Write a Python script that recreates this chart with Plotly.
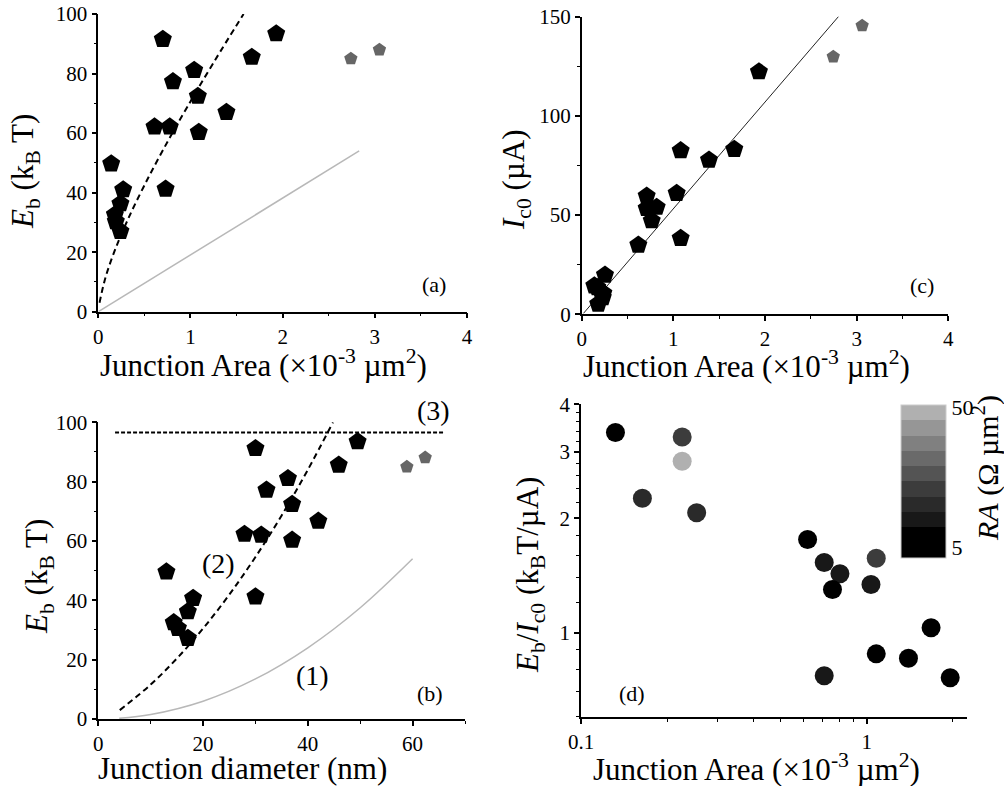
import plotly.graph_objects as go

# ---------------- data ----------------
# (a) Eb vs junction area
area_a_black = [0.14, 0.70, 1.93, 1.665, 1.04, 0.81, 1.08, 1.39, 0.61, 0.775, 1.09, 0.73, 0.27, 0.24, 0.18, 0.19, 0.24]
eb_a_black = [49.7, 91.5, 93.4, 85.5, 81.1, 77.3, 72.4, 67.0, 62.1, 62.1, 60.3, 41.2, 41.0, 36.3, 32.6, 30.3, 27.0]
area_a_gray = [2.74, 3.05]
eb_a_gray = [85.0, 88.0]
model2_area = [0.013, 0.079, 0.177, 0.314, 0.491, 0.707, 0.962, 1.257, 1.576]
model2_eb = [3.0, 11.6, 20.4, 30.5, 41.9, 54.6, 68.6, 84.0, 100.0]
model1_area = [0.0, 2.83]
model1_eb = [0.0, 54.0]

# (c) Ic0 vs junction area
area_c_black = [1.934, 1.665, 1.389, 1.08, 1.036, 1.08, 0.709, 0.709, 0.818, 0.764, 0.618, 0.254, 0.138, 0.17, 0.236, 0.23, 0.18]
ic_c_black = [122.3, 83.2, 77.8, 82.5, 61.0, 38.3, 59.6, 53.4, 54.0, 47.2, 34.9, 19.8, 14.4, 13.5, 10.6, 8.5, 5.2]
area_c_gray = [2.745, 3.06]
ic_c_gray = [129.8, 145.5]
fit_area = [0.02, 2.91]
fit_ic = [0.5, 155.9]

# (b) Eb vs junction diameter
diam_b_black = [13.0, 30.0, 49.5, 45.9, 36.2, 32.1, 37.0, 42.0, 27.9, 31.1, 37.0, 30.0, 18.1, 17.1, 14.4, 15.2, 17.1]
eb_b_black = [49.6, 91.2, 93.5, 85.6, 81.1, 77.2, 72.4, 66.7, 62.3, 62.0, 60.3, 41.2, 40.7, 36.2, 32.5, 30.6, 27.2]
diam_b_gray = [58.9, 62.4]
eb_b_gray = [85.0, 88.1]
curve1_d = [4, 10, 20, 30, 40, 50, 60]
curve1_eb = [0.24, 1.5, 6.0, 13.5, 24.0, 37.5, 54.0]
curve2_d = [4.1, 10, 15, 20, 25, 30, 35, 40, 44.8]
curve2_eb = [3.0, 11.6, 20.4, 30.5, 41.9, 54.6, 68.6, 84.0, 100.0]
line3_d = [3.2, 66.0]
line3_eb = [96.6, 96.6]

# (d) Eb/Ic0 vs junction area, coloured by RA
area_d = [0.132, 0.226, 0.226, 0.164, 0.254, 0.621, 0.71, 0.806, 0.759, 1.035, 1.08, 1.68, 1.08, 1.40, 1.96, 0.71]
ratio_d = [3.37, 3.28, 2.83, 2.26, 2.07, 1.76, 1.53, 1.43, 1.30, 1.34, 1.57, 1.03, 0.879, 0.856, 0.76, 0.77]
ra_d = [8, 25, 48, 21, 21, 8, 16, 16, 8, 16, 25, 8, 8, 8, 8, 16]
ra_min, ra_max = 5, 50
band_colors = ["#000000", "#000000", "#181818", "#2a2a2a", "#3c3c3c", "#545454",
               "#6a6a6a", "#808080", "#969696", "#b0b0b0"]

# ---------------- figure ----------------
W, H = 1004, 786
FONT = "Liberation Serif, Times New Roman, serif"


def pxx(x):
    return x / W


def pxy(y):
    return 1 - y / H


fig = go.Figure()

PENT = 19
PENT_G = 14
BLACK = "#000000"
GRAY = "#666666"

# (a)
fig.add_trace(go.Scatter(x=model1_area, y=model1_eb, mode="lines",
                         line=dict(color="#b8b8b8", width=1.5), xaxis="x", yaxis="y"))
fig.add_trace(go.Scatter(x=model2_area, y=model2_eb, mode="lines", line_shape="spline",
                         line=dict(color="black", width=2, dash="6px,4px"), xaxis="x", yaxis="y"))
fig.add_trace(go.Scatter(x=area_a_black, y=eb_a_black, mode="markers",
                         marker=dict(symbol="pentagon", size=PENT, color=BLACK), xaxis="x", yaxis="y"))
fig.add_trace(go.Scatter(x=area_a_gray, y=eb_a_gray, mode="markers",
                         marker=dict(symbol="pentagon", size=PENT_G, color=GRAY), xaxis="x", yaxis="y"))

# (c)
fig.add_trace(go.Scatter(x=fit_area, y=fit_ic, mode="lines",
                         line=dict(color="#222222", width=1), xaxis="x2", yaxis="y2"))
fig.add_trace(go.Scatter(x=area_c_black, y=ic_c_black, mode="markers",
                         marker=dict(symbol="pentagon", size=PENT, color=BLACK), xaxis="x2", yaxis="y2"))
fig.add_trace(go.Scatter(x=area_c_gray, y=ic_c_gray, mode="markers",
                         marker=dict(symbol="pentagon", size=PENT_G, color=GRAY), xaxis="x2", yaxis="y2"))

# (b)
fig.add_trace(go.Scatter(x=line3_d, y=line3_eb, mode="lines",
                         line=dict(color="black", width=2, dash="4px,2px"), xaxis="x3", yaxis="y3"))
fig.add_trace(go.Scatter(x=curve1_d, y=curve1_eb, mode="lines", line_shape="spline",
                         line=dict(color="#b8b8b8", width=1.5), xaxis="x3", yaxis="y3"))
fig.add_trace(go.Scatter(x=curve2_d, y=curve2_eb, mode="lines", line_shape="spline",
                         line=dict(color="black", width=2, dash="6px,4px"), xaxis="x3", yaxis="y3"))
fig.add_trace(go.Scatter(x=diam_b_black, y=eb_b_black, mode="markers",
                         marker=dict(symbol="pentagon", size=PENT, color=BLACK), xaxis="x3", yaxis="y3"))
fig.add_trace(go.Scatter(x=diam_b_gray, y=eb_b_gray, mode="markers",
                         marker=dict(symbol="pentagon", size=PENT_G, color=GRAY), xaxis="x3", yaxis="y3"))

# (d)
n = len(band_colors)
cscale = []
for i, c in enumerate(band_colors):
    cscale.append([i / n, c])
    cscale.append([(i + 1) / n, c])

cb_top, cb_bot = 404.7, 558.0
fig.add_trace(go.Scatter(
    x=area_d, y=ratio_d, mode="markers", xaxis="x4", yaxis="y4",
    marker=dict(symbol="circle", size=19, color=ra_d, cmin=ra_min, cmax=ra_max,
                colorscale=cscale, line=dict(width=0), showscale=True,
                colorbar=dict(x=pxx(901), xanchor="left", y=pxy((cb_top + cb_bot) / 2), yanchor="middle",
                              lenmode="pixels", len=cb_bot - cb_top, thicknessmode="pixels", thickness=45,
                              outlinewidth=1, outlinecolor="#cccccc", ticks="",
                              tickvals=[8.2, 49.4], ticktext=["5", "50"],
                              tickfont=dict(family=FONT, size=22, color="black"),
                              xpad=0, ypad=0))))

axis_common = dict(showline=True, linecolor="black", linewidth=1.5, ticks="outside",
                   ticklen=5, tickwidth=1.5, tickcolor="black", showgrid=False, zeroline=False,
                   mirror=False, automargin=False, tickfont=dict(family=FONT, size=21, color="black"))
minor_common = dict(ticks="outside", ticklen=3, tickwidth=1.2, tickcolor="black", showgrid=False)

fig.update_layout(
    width=W, height=H, margin=dict(l=0, r=0, t=0, b=0, pad=0, autoexpand=False),
    paper_bgcolor="white", plot_bgcolor="white", showlegend=False,
    font=dict(family=FONT, color="black"),
    xaxis=dict(domain=[pxx(98.3), pxx(467)], range=[0, 4], dtick=1, anchor="y",
               minor=dict(dtick=0.5, **minor_common), **axis_common),
    yaxis=dict(domain=[pxy(311.7), pxy(14)], range=[0, 100], dtick=20, anchor="x",
               minor=dict(dtick=10, **minor_common), **axis_common),
    xaxis2=dict(domain=[pxx(581.7), pxx(948.3)], range=[0, 4], dtick=1, anchor="y2",
                minor=dict(dtick=0.5, **minor_common), **axis_common),
    yaxis2=dict(domain=[pxy(314.3), pxy(16.7)], range=[0, 150], dtick=50, anchor="x2",
                minor=dict(dtick=25, **minor_common), **axis_common),
    xaxis3=dict(domain=[pxx(98.3), pxx(465)], range=[0, 70], dtick=20, anchor="y3",
                minor=dict(dtick=10, **minor_common), **axis_common),
    yaxis3=dict(domain=[pxy(719), pxy(422.3)], range=[0, 100], dtick=20, anchor="x3",
                minor=dict(dtick=10, **minor_common), **axis_common),
    xaxis4=dict(domain=[pxx(581), pxx(966.7)], type="log", range=[-1, 0.35], anchor="y4",
                tickvals=[0.1, 1], ticktext=["0.1", "1"],
                minor=dict(tickvals=[0.2, 0.3, 0.4, 0.5, 0.6, 0.7, 0.8, 0.9, 2], **minor_common),
                **axis_common),
    yaxis4=dict(domain=[pxy(717.3), pxy(404.3)], type="log", range=[-0.2233, 0.60206], anchor="x4",
                tickvals=[1, 2, 3, 4], ticktext=["1", "2", "3", "4"],
                minor=dict(tickvals=[0.6, 0.7, 0.8, 0.9, 1.2, 1.4, 1.6, 1.8, 2.2, 2.4, 2.6, 2.8,
                                     3.2, 3.4, 3.6, 3.8], **minor_common),
                **axis_common),
)

TITLE = 31
ann = []


def add_ann(text, x, y, size, angle=0, xanchor="center", yanchor="middle"):
    ann.append(dict(text=text, x=pxx(x), y=pxy(y), xref="paper", yref="paper", showarrow=False,
                    textangle=angle, xanchor=xanchor, yanchor=yanchor,
                    font=dict(family=FONT, size=size, color="black")))


xt_area = "Junction Area (×10<sup>-3</sup> µm<sup>2</sup>)"
add_ann(xt_area, 98, 363, TITLE, xanchor="left")
add_ann(xt_area, 581, 364, TITLE, xanchor="left")
add_ann("Junction diameter (nm)", 96, 768, TITLE, xanchor="left")
add_ann(xt_area, 591, 767, TITLE, xanchor="left")

add_ann("<i>E</i><sub>b</sub> (k<sub>B</sub> T)", 25, 172, TITLE, angle=-90)
add_ann("<i>I</i><sub>c0</sub> (µA)", 516, 180, TITLE, angle=-90)
add_ann("<i>E</i><sub>b</sub> (k<sub>B</sub> T)", 39, 577, TITLE, angle=-90)
add_ann("<i>E</i><sub>b</sub>/<i>I</i><sub>c0</sub> (k<sub>B</sub>T/µA)", 530, 575, TITLE, angle=-90)
add_ann("<i>RA</i> (Ω µm<sup>2</sup>)", 985, 468, 30, angle=-90)

add_ann("(a)", 434.3, 284.3, 22)
add_ann("(c)", 921.7, 285, 22)
add_ann("(b)", 430, 693.3, 22)
add_ann("(d)", 631.7, 693.3, 22)
add_ann("(1)", 312.7, 675, 28)
add_ann("(2)", 218.3, 563.3, 28)
add_ann("(3)", 433, 410, 28)

fig.update_layout(annotations=ann)

fig.write_html("out.html", config={"displayModeBar": False},
               post_script="document.body.style.margin='0';document.body.style.overflow='hidden';")
